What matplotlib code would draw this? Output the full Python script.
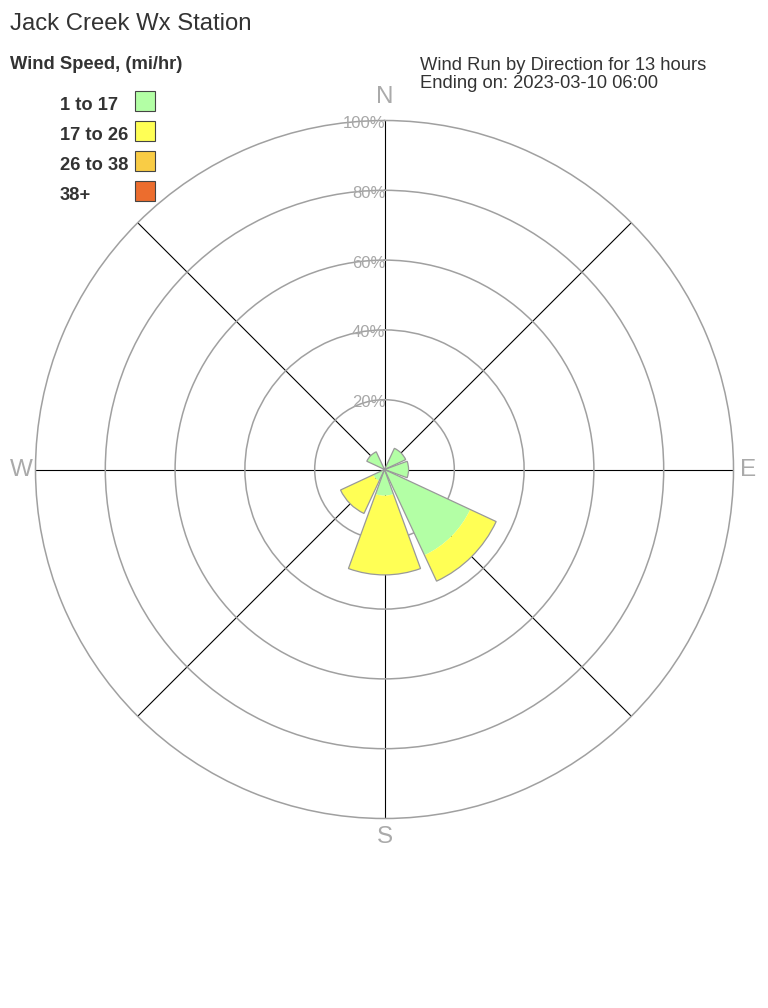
import numpy as np
import matplotlib
matplotlib.use("Agg")
import matplotlib.pyplot as plt
from matplotlib.patches import Rectangle
from matplotlib.transforms import offset_copy

plt.rcParams['font.family'] = ['Liberation Sans', 'DejaVu Sans']

# data (percent of wind run per direction, by speed bin)
directions = ['N', 'NE', 'E', 'SE', 'S', 'SW', 'W', 'NW']
dir_deg = [0, 45, 90, 135, 180, 225, 270, 315]
speed_bins = ['1 to 17', '17 to 26', '26 to 38', '38+']
bin_colors = ['#b3ffa5', '#ffff55', '#f9cc45', '#ec6d2e']
pct_1_17 = [0, 6.7, 6.9, 27.1, 7.5, 3.6, 0, 5.6]
pct_17_26 = [0, 0, 0, 8.2, 22.7, 10.3, 0, 0]
pct_26_38 = [0, 0, 0, 0, 0, 0, 0, 0]
pct_38up = [0, 0, 0, 0, 0, 0, 0, 0]
ring_pcts = [20, 40, 60, 80, 100]

W, H = 768, 1008
fig = plt.figure(figsize=(W / 100, H / 100), dpi=100)
fig.patch.set_facecolor('white')

# polar axes: centre (384.5, 469.5) px, radius 349 px
cx, cy, R = 384.5, 469.5, 349
ax = fig.add_axes([(cx - R) / W, (H - cy - R) / H, 2 * R / W, 2 * R / H], projection='polar')
ax.set_theta_zero_location('N')
ax.set_theta_direction(-1)
ax.set_ylim(0, 100)
ax.set_facecolor('none')

ring_col = '#a0a0a0'
ax.set_rgrids([20, 40, 60, 80], labels=[])
ax.set_thetagrids(dir_deg, labels=[''] * 8)
ax.grid(axis='y', color=ring_col, lw=1.1)
ax.grid(axis='x', color='black', lw=0.8)
ax.spines['polar'].set_color(ring_col)
ax.spines['polar'].set_linewidth(1.1)
ax.tick_params(axis='both', length=0)

theta = np.deg2rad(dir_deg)
width = np.deg2rad(40)
layers = [pct_1_17, pct_17_26, pct_26_38, pct_38up]
bottom = np.zeros(len(directions))
for vals, col in zip(layers, bin_colors):
    vals = np.array(vals)
    ax.bar(theta, vals, width=width, bottom=bottom, color=col, edgecolor='none',
           linewidth=0, zorder=2)
    bottom = bottom + vals
# outline round each whole wedge
ax.bar(theta, bottom, width=width, bottom=0, facecolor='none', edgecolor='#999999',
       linewidth=0.9, zorder=3)

# percent labels along N axis
lab_tr = offset_copy(ax.transData, fig=fig, x=1, y=-3, units='dots')
for r in ring_pcts:
    ax.text(0, r, f'{r}%', transform=lab_tr, ha='right', va='center',
            fontsize=12, color='#a8a8a8', zorder=4)

# compass labels
for name, deg, rr in [('N', 0, 106.7), ('E', 90, 104.2), ('S', 180, 105.4), ('W', 270, 104.0)]:
    ax.text(np.deg2rad(deg), rr, name, ha='center', va='center', fontsize=17.5,
            color='#aaaaaa')

# texts
fig.text(10 / W, 1 - 30 / H, 'Jack Creek Wx Station', fontsize=17.2, color='#333333')
fig.text(10 / W, 1 - 69 / H, 'Wind Speed, (mi/hr)', fontsize=13.2, color='#333333',
         fontweight='bold')
for i, (lab, col) in enumerate(zip(speed_bins, bin_colors)):
    yb = 110 + 30 * i
    fig.text(60 / W, 1 - yb / H, lab, fontsize=13.2, color='#333333', fontweight='bold')
    fig.patches.append(Rectangle((135 / W, 1 - (yb + 1) / H), 20 / W, 20 / H,
                                 transform=fig.transFigure, facecolor=col,
                                 edgecolor='#444444', linewidth=0.8))
fig.text(420 / W, 1 - 70.5 / H, 'Wind Run by Direction for 13 hours', fontsize=13.2,
         color='#333333')
fig.text(420 / W, 1 - 88.5 / H, 'Ending on: 2023-03-10 06:00', fontsize=13.2,
         color='#333333')

fig.savefig('out.png', dpi=100, facecolor='white')
